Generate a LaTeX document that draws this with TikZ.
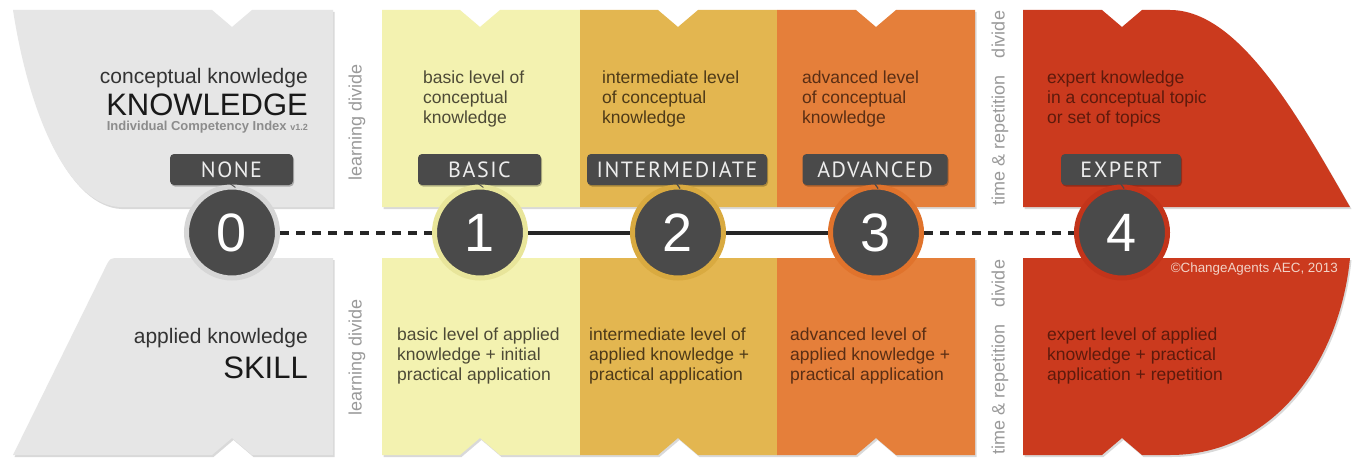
\documentclass[tikz,border=0pt]{standalone}
\usepackage{fontspec}
\setmainfont{Liberation Sans}
\newfontfamily\tabfont[LetterSpace=7]{PT Sans}
\usetikzlibrary{shadows}
\definecolor{greyblk}{HTML}{E6E6E6}
\definecolor{yel}{HTML}{F3F2B0}
\definecolor{gold}{HTML}{E3B650}
\definecolor{orng}{HTML}{E57F3A}
\definecolor{redb}{HTML}{CB3A1E}
\definecolor{dark}{HTML}{4A4A4A}
\definecolor{ring0}{HTML}{D6D6D6}
\definecolor{ring1}{HTML}{E8E59A}
\definecolor{ring2}{HTML}{D9AA40}
\definecolor{ring3}{HTML}{E0732C}
\definecolor{ring4}{HTML}{C3341A}
\definecolor{tabtext}{HTML}{EDEDED}
\definecolor{divgrey}{HTML}{9A9A9A}
\definecolor{txtY}{HTML}{4D4A36}
\definecolor{txtG}{HTML}{4E3A18}
\definecolor{txtO}{HTML}{5A2E14}
\definecolor{txtR}{HTML}{5E1A0C}
\definecolor{copyc}{HTML}{F2D2C6}
\begin{document}
\begin{tikzpicture}[x=1pt,y=-1pt,
  blk/.style={drop shadow={shadow xshift=1.5pt,shadow yshift=-2pt,opacity=0.15,fill=black}},
  coltext/.style={anchor=base west,align=left,inner sep=0,font=\fontsize{17.5}{20}\selectfont},
  headsmall/.style={anchor=base east,inner sep=0,text=black!80,font=\fontsize{21}{24}\selectfont},
  headbig/.style={anchor=base east,inner sep=0,text=black!90,font=\fontsize{31}{36}\selectfont},
  divtext/.style={rotate=90,inner sep=0,text=divgrey,font=\fontsize{18}{20}\selectfont},
  tabbox/.style={fill=dark,rounded corners=4pt,minimum height=31,inner sep=0,text=tabtext,font=\tabfont\fontsize{22}{22}\selectfont,drop shadow={shadow xshift=1pt,shadow yshift=-1.5pt,opacity=0.25,fill=black}},
  circ/.style={circle,fill=dark,minimum size=91,line width=5pt,inner sep=0,text=white,font=\fontsize{54}{54}\selectfont},
  stem/.style={line width=9pt,dark},
  conn/.style={line width=4pt,black!85},
  dashconn/.style={conn,dash pattern=on 9pt off 7pt}
]
\useasboundingbox[fill=white] (0,0) rectangle (1352,460);

% ---- top blocks
\path[blk,fill=greyblk] (13,10) -- (212,10) -- (232,27) -- (252,10) -- (333,10) -- (333,207) -- (120,207) .. controls (70,205) and (30,120) .. (13,10) -- cycle;
\path[blk,fill=yel] (382,10) -- (460,10) -- (480,27) -- (500,10) -- (580,10) -- (580,207) -- (382,207) -- cycle;
\path[blk,fill=gold] (580,10) -- (658,10) -- (678,27) -- (698,10) -- (777,10) -- (777,207) -- (580,207) -- cycle;
\path[blk,fill=orng] (777,10) -- (856,10) -- (876,27) -- (896,10) -- (975,10) -- (975,207) -- (777,207) -- cycle;
\path[blk,fill=redb] (1023,10) -- (1102,10) -- (1122,27) -- (1142,10) -- (1170,10) .. controls (1240,10) and (1300,120) .. (1350,207) -- (1023,207) -- cycle;

% ---- bottom blocks
\path[blk,fill=greyblk] (13,455) -- (105.6,267) .. controls (110,258) .. (120,258) -- (333,258) -- (333,455) -- (252,455) -- (232,438) -- (212,455) -- cycle;
\path[blk,fill=yel] (382,258) -- (580,258) -- (580,455) -- (500,455) -- (480,438) -- (460,455) -- (382,455) -- cycle;
\path[blk,fill=gold] (580,258) -- (777,258) -- (777,455) -- (698,455) -- (678,438) -- (658,455) -- (580,455) -- cycle;
\path[blk,fill=orng] (777,258) -- (975,258) -- (975,455) -- (896,455) -- (876,438) -- (856,455) -- (777,455) -- cycle;
\path[blk,fill=redb] (1023,258) -- (1350,258) .. controls (1340,360) and (1275,455) .. (1170,455) -- (1142,455) -- (1122,438) -- (1102,455) -- (1023,455) -- cycle;

% ---- left texts
\node[headsmall] (ck) at (308,83) {conceptual knowledge};
\node[headbig] (kn) at (308,115) {KNOWLEDGE};
\node[anchor=base east,inner sep=0,text=black!45,font=\bfseries\fontsize{13}{14}\selectfont] (ici) at (308,130) {Individual Competency Index {\fontsize{9}{10}\selectfont v1.2}};
\node[headsmall] (ak) at (308,343) {applied knowledge};
\node[headbig] (sk) at (308,378) {SKILL};

% ---- divides
\node[divtext] (ld1) at (357,122) {learning divide};
\node[divtext] (ld2) at (357,357) {learning divide};
\node[divtext] (tr1) at (1000,108) {time \& repetition\hspace{12pt} divide};
\node[divtext] (tr2) at (1000,357) {time \& repetition\hspace{12pt} divide};

% ---- column texts (base = last line)
\node[coltext,text=txtY] (y1) at (423,123) {basic level of\\conceptual\\knowledge};
\node[coltext,text=txtG] (g1) at (602,123) {intermediate level\\of conceptual\\knowledge};
\node[coltext,text=txtO] (o1) at (802,123) {advanced level\\of conceptual\\knowledge};
\node[coltext,text=txtR] (r1) at (1047,123) {expert knowledge\\in a conceptual topic\\or set of topics};
\node[coltext,text=txtY] (y2) at (397,380) {basic level of applied\\knowledge + initial\\practical application};
\node[coltext,text=txtG] (g2) at (589,380) {intermediate level of\\applied knowledge +\\practical application};
\node[coltext,text=txtO] (o2) at (790,380) {advanced level of\\applied knowledge +\\practical application};
\node[coltext,text=txtR] (r2) at (1047,380) {expert level of applied\\knowledge + practical\\application + repetition};
\node[anchor=base east,inner sep=0,text=copyc,font=\fontsize{13.4}{15}\selectfont] (copy) at (1338,272) {©ChangeAgents AEC, 2013};

% ---- tabs
\node[tabbox,minimum width=123] (t0) at (231.5,169.5) {NONE};
\node[tabbox,minimum width=123] (t1) at (479.5,169.5) {BASIC};
\node[tabbox,minimum width=180] (t2) at (677,169.5) {INTERMEDIATE};
\node[tabbox,minimum width=145] (t3) at (875,169.5) {ADVANCED};
\node[tabbox,minimum width=120] (t4) at (1121,169.5) {EXPERT};

% ---- circles
\node[circ,draw=ring0] (c0) at (232,232.5) {0};
\node[circ,draw=ring1] (c1) at (480,232.5) {1};
\node[circ,draw=ring2] (c2) at (678,232.5) {2};
\node[circ,draw=ring3] (c3) at (876,232.5) {3};
\node[circ,draw=ring4] (c4) at (1122,232.5) {4};

% ---- stems
\draw[stem] (t0.south) -- (c0.north);
\draw[stem] (t1.south) -- (c1.north);
\draw[stem] (t2.south) -- (c2.north);
\draw[stem] (t3.south) -- (c3.north);
\draw[stem] (t4.south) -- (c4.north);

% ---- connectors
\draw[dashconn] (c0) -- (c1);
\draw[conn] (c1) -- (c2);
\draw[conn] (c2) -- (c3);
\draw[dashconn] (c3) -- (c4);
\end{tikzpicture}
\end{document}
